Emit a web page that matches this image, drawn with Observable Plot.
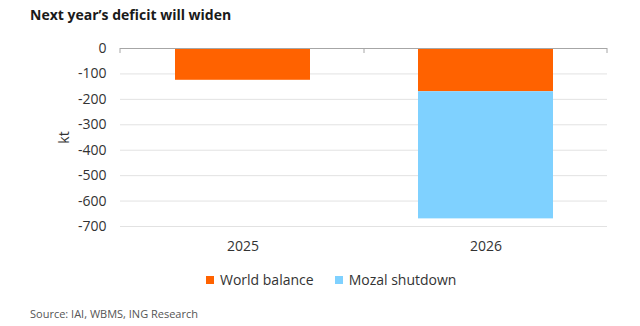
<!DOCTYPE html>
<html>
<head>
<meta charset="utf-8">
<script src="https://cdn.jsdelivr.net/npm/d3@7"></script>
<script src="https://cdn.jsdelivr.net/npm/@observablehq/plot@0.6"></script>
<style>
  html, body { margin: 0; padding: 0; background: #fff; }
  #wrap { position: relative; width: 640px; height: 326px; overflow: hidden; font-family: "Open Sans", sans-serif; }
  #title { position: absolute; left: 30px; top: 8px; font-size: 14px; line-height: 14px; font-weight: 700; color: #1a1a1a; white-space: nowrap; }
  #chart { position: absolute; left: 0; top: 32px; }
  #legend { position: absolute; left: 206px; top: 273px; font-size: 14px; line-height: 14px; color: #333; white-space: nowrap; display: flex; }
  #legend .item { display: flex; align-items: center; margin-right: 21px; }
  #legend .sw { width: 8px; height: 8px; margin-right: 6px; display: inline-block; }
  #source { position: absolute; left: 30px; top: 308px; font-size: 11px; line-height: 11px; color: #555; white-space: nowrap; }
</style>
</head>
<body>
<div id="wrap">
  <div id="title">Next year’s deficit will widen</div>
  <div id="chart"></div>
  <div id="legend"></div>
  <div id="source">Source: IAI, WBMS, ING Research</div>
</div>
<script>
const years = ["2025", "2026"];
const seriesNames = ["World balance", "Mozal shutdown"];
const worldBalance = [-125, -170];
const mozalShutdown = [0, -500];
const colors = ["#ff6200", "#7fd1ff"];
const yTicks = [0, -100, -200, -300, -400, -500, -600, -700];

const data = [];
years.forEach((y, i) => {
  data.push({year: y, series: seriesNames[0], value: worldBalance[i]});
  data.push({year: y, series: seriesNames[1], value: mozalShutdown[i]});
});

const plot = Plot.plot({
  width: 640,
  height: 232,
  marginTop: 16,
  marginBottom: 38,
  marginLeft: 120,
  marginRight: 33,
  style: {fontFamily: "Open Sans, sans-serif", fontSize: "14px", color: "#333", background: "#fff"},
  x: {domain: years, paddingInner: 0.446, paddingOuter: 0.222, label: null},
  y: {domain: [-700, 0], label: null},
  color: {domain: seriesNames, range: colors},
  marks: [
    Plot.gridY(yTicks.filter(d => d !== 0), {stroke: "#e2e2e2", strokeOpacity: 1, strokeWidth: 1}),
    Plot.barY(data, Plot.stackY({x: "year", y: "value", fill: "series", order: seriesNames})),
    Plot.ruleY([0], {stroke: "#a6a6a6", strokeWidth: 1}),
    Plot.axisY({ticks: yTicks, tickSize: 0, tickPadding: 14, tickFormat: d => String(d), fontSize: 14, fill: "#333", label: "kt", labelAnchor: "center", labelOffset: 61, labelArrow: "none"}),
    Plot.axisX({tickSize: 0, tickPadding: 15, fontSize: 14, fill: "#333", label: null})
  ]
});
document.getElementById("chart").appendChild(plot);

// top axis tick marks at category boundaries (derived from the x scale)
const xs = plot.scale("x");
const ys = plot.scale("y");
const y0 = ys.apply(0);
const bounds = [xs.range[0]];
for (let i = 0; i < years.length - 1; i++) {
  const a = xs.apply(years[i]) + xs.bandwidth;
  const b = xs.apply(years[i + 1]);
  bounds.push((a + b) / 2);
}
bounds.push(xs.range[1]);
const svg = d3.select(plot);
svg.append("g").selectAll("line").data(bounds).join("line")
  .attr("x1", d => d).attr("x2", d => d)
  .attr("y1", y0).attr("y2", y0 + 5)
  .attr("stroke", "#a6a6a6").attr("stroke-width", 1);

// legend
const leg = d3.select("#legend");
seriesNames.forEach((s, i) => {
  const it = leg.append("div").attr("class", "item");
  it.append("span").attr("class", "sw").style("background", colors[i]);
  it.append("span").text(s);
});
</script>
</body>
</html>
